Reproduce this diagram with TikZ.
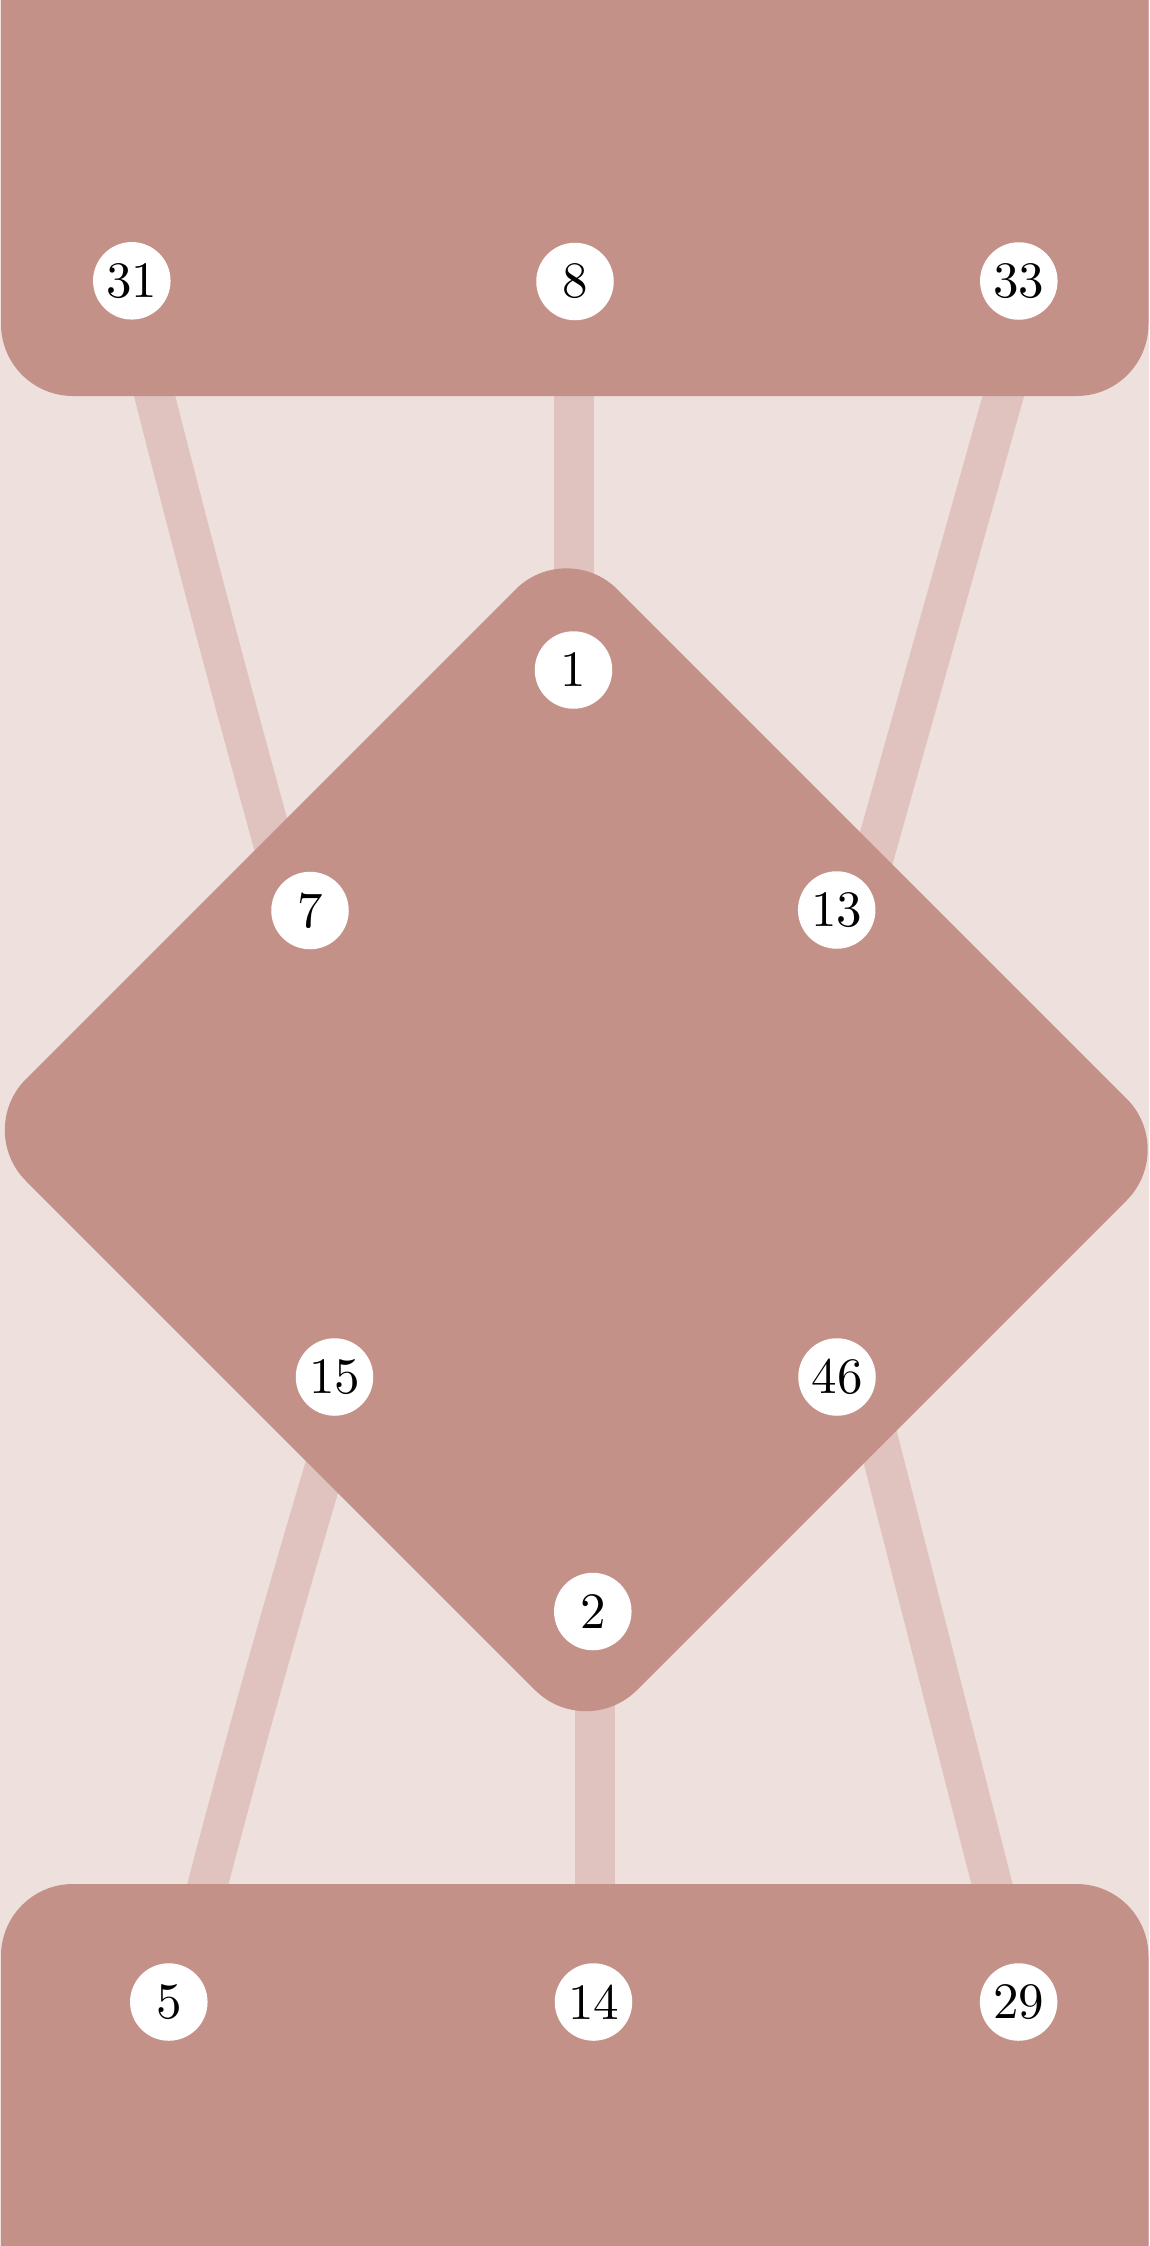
\documentclass[tikz,border=0pt]{standalone}
\definecolor{bgc}{RGB}{237,224,221}
\definecolor{boxc}{RGB}{196,145,136}
\definecolor{linkc}{RGB}{224,195,190}
\newcommand\nlab[1]{\scalebox{5.1}{#1}}
\begin{document}
\begin{tikzpicture}[x=1pt,y=-1pt,
  link/.style={draw=linkc,line width=40pt},
  panel/.style={fill=boxc,rounded corners=72pt},
  num/.style={circle,fill=white,minimum size=77.5pt,inner sep=0pt,
    font=\fontsize{10}{12}\selectfont,text=black}]
\useasboundingbox (0,0) rectangle (1149,2246);
\clip (0,0) rectangle (1149,2246);
\fill[bgc] (0,0) rectangle (1149,2246);

% connector end points (hidden under the groups)
\coordinate (s31) at (130.5,300);
\coordinate (k31a) at (180.3,500);
\coordinate (k31b) at (233.1,700);
\coordinate (e7) at (289,900);

\coordinate (s8) at (574,300);
\coordinate (e1) at (574,700);

\coordinate (s33) at (1030.3,300);
\coordinate (e13) at (847.6,950);

\coordinate (s15) at (351.3,1380);
\coordinate (k15a) at (289.9,1580);
\coordinate (k15b) at (233.8,1780);
\coordinate (e5) at (183.2,1980);

\coordinate (s2) at (595,1600);
\coordinate (e14) at (595,1980);

\coordinate (s46) at (863,1380);
\coordinate (e29) at (1016.6,1980);

% connectors
\draw[link] (s31) .. controls (k31a) and (k31b) .. (e7);
\draw[link] (s8) -- (e1);
\draw[link] (s33) -- (e13);
\draw[link] (s15) .. controls (k15a) and (k15b) .. (e5);
\draw[link] (s2) -- (e14);
\draw[link] (s46) -- (e29);

% groups
\fill[panel] (1,-200) rectangle (1148.5,396);
\fill[panel] (1,1884) rectangle (1148.5,2500);
\fill[panel] (270.75,834.25) -- (566.5,538.5) -- (1177.5,1149.5) -- (586,1741) -- (-25,1130) -- cycle;

% nodes
\node[num] (n31) at (131.8,280.8) {\raisebox{1pt}{\nlab{31}}};
\node[num] (n8) at (575,281.5) {\nlab{8}};
\node[num] (n33) at (1018.8,281) {\nlab{33}};
\node[num] (n1) at (573.5,670) {\nlab{1}};
\node[num] (n7) at (310,910.5) {\nlab{7}};
\node[num] (n13) at (836.7,910) {\nlab{13}};
\node[num] (n15) at (334.5,1377) {\nlab{15}};
\node[num] (n46) at (837,1377) {\nlab{46}};
\node[num] (n2) at (592.8,1611.5) {\nlab{2}};
\node[num] (n5) at (168.8,2002) {\nlab{5}};
\node[num] (n14) at (593.5,2002) {\nlab{14}};
\node[num] (n29) at (1018.6,2002) {\nlab{29}};
\end{tikzpicture}
\end{document}
